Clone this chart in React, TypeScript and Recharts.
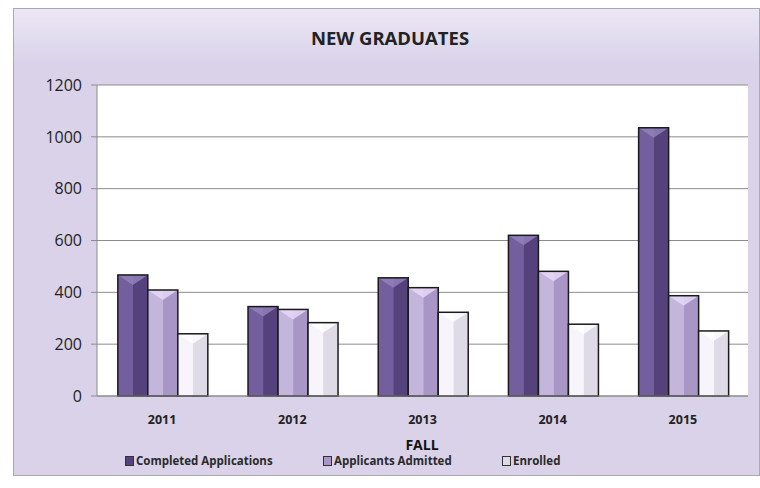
import { BarChart, Bar, XAxis, YAxis, CartesianGrid } from "recharts";

const YEARS = ["2011", "2012", "2013", "2014", "2015"];
const COMPLETED = [467, 345, 456, 620, 1035];
const ADMITTED = [409, 334, 418, 481, 387];
const ENROLLED = [240, 283, 323, 277, 251];
const Y_TICKS = [0, 200, 400, 600, 800, 1000, 1200];

const SERIES = [
  { key: "completed", name: "Completed Applications", light: "#735f9e", dark: "#55417c", top: "#9483bb", legendX: 125 },
  { key: "admitted", name: "Applicants Admitted", light: "#c3b5dc", dark: "#a796c6", top: "#e8dcf7", legendX: 323 },
  { key: "enrolled", name: "Enrolled", light: "#f7f5fb", dark: "#dedae6", top: "#ffffff", legendX: 502 },
];

const DATA = YEARS.map((y, i) => ({
  year: y,
  completed: COMPLETED[i],
  admitted: ADMITTED[i],
  enrolled: ENROLLED[i],
}));

const FONT = "'Open Sans', sans-serif";

function bevelShape(idx: number) {
  return (props: any) => {
    const { x, y, width, height } = props;
    const s = SERIES[idx];
    const t = Math.min(10, width / 3, height);
    return (
      <g>
        <rect x={x} y={y} width={width} height={height} fill={`url(#grad-${s.key})`} />
        <polygon
          points={`${x},${y} ${x + width},${y} ${x + width / 2},${y + t}`}
          fill={s.top}
          opacity={0.8}
        />
        <rect x={x} y={y} width={width} height={height} fill="none" stroke="#1a1a1a" strokeWidth={1.5} />
      </g>
    );
  };
}

export default function App() {
  return (
    <div style={{ position: "absolute", left: 0, top: 0, width: 760, height: 488, background: "#fff", overflow: "hidden" }}>
      <div
        style={{
          position: "absolute",
          left: 13,
          top: 8,
          width: 747,
          height: 468,
          background: "linear-gradient(180deg, #ece7f6 0%, #d9d2e9 12%, #d9d2e9 100%)",
          border: "1px solid #a9a9b0",
          boxSizing: "border-box",
        }}
      />
      <div style={{ position: "absolute", left: 0, width: 780, top: 25, textAlign: "center", fontFamily: FONT, fontWeight: 700, fontSize: 18.5, color: "#222" }}>
        NEW GRADUATES
      </div>
      <div style={{ position: "absolute", left: 0, top: 0 }}>
        <BarChart
          width={760}
          height={488}
          data={DATA}
          margin={{ top: 85, right: 12, bottom: 62, left: 0 }}
          barCategoryGap="16%"
          barGap={0}
        >
          <defs>
            {SERIES.map((s) => (
              <linearGradient key={s.key} id={`grad-${s.key}`} x1="0" y1="0" x2="1" y2="0">
                <stop offset="0%" stopColor={s.light} />
                <stop offset="50%" stopColor={s.light} />
                <stop offset="52%" stopColor={s.dark} />
                <stop offset="100%" stopColor={s.dark} />
              </linearGradient>
            ))}
          </defs>
          <CartesianGrid vertical={false} stroke="#8c8c8c" fill="#ffffff" />
          <XAxis
            dataKey="year"
            height={30}
            axisLine={{ stroke: "#8c8c8c" }}
            tickLine={false}
            tick={{ fontSize: 12.5, fontWeight: 700, fill: "#222", fontFamily: FONT }}
            tickMargin={13}
          />
          <YAxis
            width={97}
            domain={[0, 1200]}
            ticks={Y_TICKS}
            interval={0}
            axisLine={{ stroke: "#8c8c8c" }}
            tickLine={{ stroke: "#8c8c8c" }}
            tickSize={6}
            tickMargin={9}
            tick={{ fontSize: 16, fill: "#222", fontFamily: FONT }}
          />
          {SERIES.map((s, i) => (
            <Bar key={s.key} dataKey={s.key} name={s.name} fill={s.dark} shape={bevelShape(i)} isAnimationActive={false} />
          ))}
        </BarChart>
      </div>
      <div style={{ position: "absolute", left: 0, width: 844, top: 438, lineHeight: "14px", textAlign: "center", fontFamily: FONT, fontWeight: 700, fontSize: 14, color: "#111" }}>
        FALL
      </div>
      {SERIES.map((s) => (
        <div
          key={s.key}
          style={{ position: "absolute", left: s.legendX, top: 454, lineHeight: "13px", display: "flex", alignItems: "center", fontFamily: FONT, fontWeight: 700, fontSize: 11.5, color: "#2a2a2a", whiteSpace: "nowrap" }}
        >
          <span style={{ display: "inline-block", width: 7, height: 8, border: "1.5px solid #333", background: s.dark, marginRight: 2 }} />
          {s.name}
        </div>
      ))}
    </div>
  );
}
